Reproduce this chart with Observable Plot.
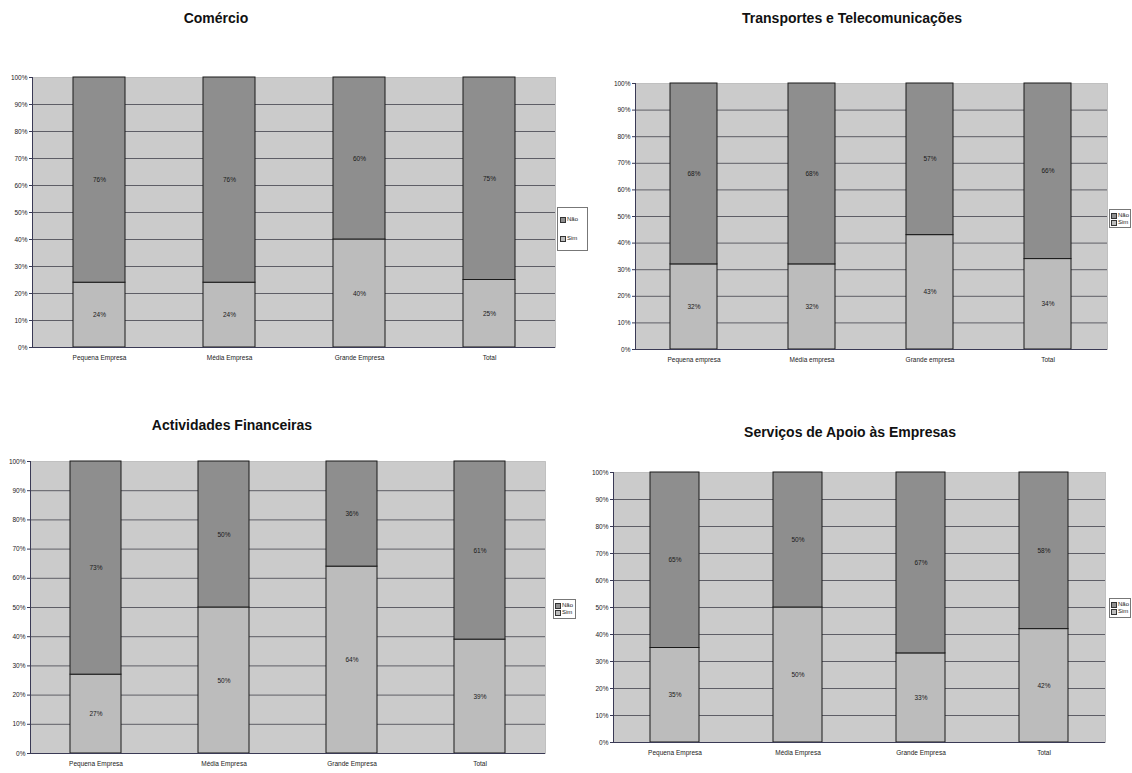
<!DOCTYPE html>
<html>
<head>
<meta charset="utf-8">
<script src="https://cdn.jsdelivr.net/npm/d3@7"></script>
<script src="https://cdn.jsdelivr.net/npm/@observablehq/plot@0.6"></script>
<style>
  html, body { margin: 0; padding: 0; background: #fff; }
  #root { position: relative; width: 1132px; height: 773px; overflow: hidden; font-family: "Liberation Sans", Arial, sans-serif; }
  .title { position: absolute; font-weight: bold; font-size: 14px; color: #111; white-space: nowrap; transform: translateX(-50%); }
  .panel { position: absolute; }
  .legend { position: absolute; background: #fff; border: 1px solid #777; font-size: 6px; color: #222; box-sizing: border-box; padding: 2px 1px; }
  .legend .item { display: flex; align-items: center; white-space: nowrap; line-height: 7px; }
  .legend .sw { display: inline-block; width: 4px; height: 4px; border: 1px solid #333; margin-right: 1px; flex: none; }
</style>
</head>
<body>
<div id="root"></div>
<script>
// ---- data ----
const respostas = ["Não", "Sim"];
const stackOrder = ["Sim", "Não"];
const yTicks = [0, 10, 20, 30, 40, 50, 60, 70, 80, 90, 100];

const titleComercio = "Comércio";
const catsComercio = ["Pequena Empresa", "Média Empresa", "Grande Empresa", "Total"];
const simComercio = [24, 24, 40, 25];
const naoComercio = [76, 76, 60, 75];

const titleTransportes = "Transportes e Telecomunicações";
const catsTransportes = ["Pequena empresa", "Média empresa", "Grande empresa", "Total"];
const simTransportes = [32, 32, 43, 34];
const naoTransportes = [68, 68, 57, 66];

const titleFinanceiras = "Actividades Financeiras";
const catsFinanceiras = ["Pequena Empresa", "Média Empresa", "Grande Empresa", "Total"];
const simFinanceiras = [27, 50, 64, 39];
const naoFinanceiras = [73, 50, 36, 61];

const titleServicos = "Serviços de Apoio às Empresas";
const catsServicos = ["Pequena Empresa", "Média Empresa", "Grande Empresa", "Total"];
const simServicos = [35, 50, 33, 42];
const naoServicos = [65, 50, 67, 58];

// ---- styling / layout ----
const colors = {"Não": "#8e8e8e", "Sim": "#bcbcbc"};
const bg = "#cbcbcb";
const grid = "#5e5e66";

const panels = [
  {title: titleComercio, cats: catsComercio, sim: simComercio, nao: naoComercio,
   plot: {x: 32, y: 77, w: 523, h: 270}, titlePos: {x: 216, y: 10},
   legend: {x: 557, y: 207, w: 31, h: 44, gap: 14}},
  {title: titleTransportes, cats: catsTransportes, sim: simTransportes, nao: naoTransportes,
   plot: {x: 635, y: 83, w: 472, h: 266}, titlePos: {x: 852, y: 10},
   legend: {x: 1109, y: 209, w: 22, h: 19, gap: 0}},
  {title: titleFinanceiras, cats: catsFinanceiras, sim: simFinanceiras, nao: naoFinanceiras,
   plot: {x: 30, y: 461, w: 515, h: 292}, titlePos: {x: 232, y: 417},
   legend: {x: 553, y: 599, w: 23, h: 20, gap: 0}},
  {title: titleServicos, cats: catsServicos, sim: simServicos, nao: naoServicos,
   plot: {x: 613, y: 472, w: 492, h: 270}, titlePos: {x: 850, y: 424},
   legend: {x: 1109, y: 598, w: 22, h: 20, gap: 0}}
];

const root = document.getElementById("root");

panels.forEach(p => {
  const rows = [];
  p.cats.forEach((c, i) => {
    rows.push({cat: c, resp: "Sim", value: p.sim[i]});
    rows.push({cat: c, resp: "Não", value: p.nao[i]});
  });
  const mL = 32, mT = 8, mR = 3, mB = 24;
  const chart = Plot.plot({
    width: p.plot.w + mL + mR,
    height: p.plot.h + mT + mB,
    marginLeft: mL, marginTop: mT, marginRight: mR, marginBottom: mB,
    style: {fontFamily: "'Liberation Sans', Arial, sans-serif", background: "transparent", overflow: "visible"},
    x: {domain: p.cats, paddingInner: 0.6, paddingOuter: 0.3, label: null},
    y: {domain: [0, 100], label: null},
    color: {domain: respostas, range: respostas.map(r => colors[r])},
    marks: [
      Plot.frame({fill: bg, stroke: "#9a9a9a", strokeDasharray: "1,1"}),
      Plot.ruleY(yTicks.slice(1, -1), {stroke: grid, strokeWidth: 1}),
      Plot.barY(rows, {x: "cat", y: "value", z: "resp", fill: "resp", order: stackOrder, stroke: "#1a1a1a", strokeWidth: 1}),
      Plot.text(rows, Plot.stackY({x: "cat", y: "value", z: "resp", order: stackOrder, text: d => d.value + "%", fontSize: 6.5, fill: "#1a1a1a"})),
      Plot.ruleY([0], {stroke: "#3a3a55", strokeWidth: 1}),
      Plot.frame({anchor: "left", stroke: "#3a3a55"}),
      Plot.axisY(yTicks, {tickFormat: d => d + "%", tickSize: 3, tickPadding: 2, fontSize: 6.5, stroke: "#3a3a55", color: "#222"}),
      Plot.axisX({tickSize: 0, tickPadding: 8, fontSize: 6.5, color: "#222"})
    ]
  });
  const wrap = document.createElement("div");
  wrap.className = "panel";
  wrap.style.left = (p.plot.x - mL) + "px";
  wrap.style.top = (p.plot.y - mT) + "px";
  wrap.appendChild(chart);
  root.appendChild(wrap);

  const t = document.createElement("div");
  t.className = "title";
  t.textContent = p.title;
  t.style.left = p.titlePos.x + "px";
  t.style.top = p.titlePos.y + "px";
  root.appendChild(t);

  const lg = document.createElement("div");
  lg.className = "legend";
  lg.style.left = p.legend.x + "px";
  lg.style.top = p.legend.y + "px";
  lg.style.width = p.legend.w + "px";
  lg.style.height = p.legend.h + "px";
  if (p.legend.gap) { lg.style.display = "flex"; lg.style.flexDirection = "column"; lg.style.justifyContent = "space-around"; lg.style.padding = "2px 2px"; }
  respostas.forEach(r => {
    const it = document.createElement("div");
    it.className = "item";
    const sw = document.createElement("span");
    sw.className = "sw";
    sw.style.background = colors[r];
    it.appendChild(sw);
    it.appendChild(document.createTextNode(r));
    lg.appendChild(it);
  });
  root.appendChild(lg);
});
</script>
</body>
</html>
